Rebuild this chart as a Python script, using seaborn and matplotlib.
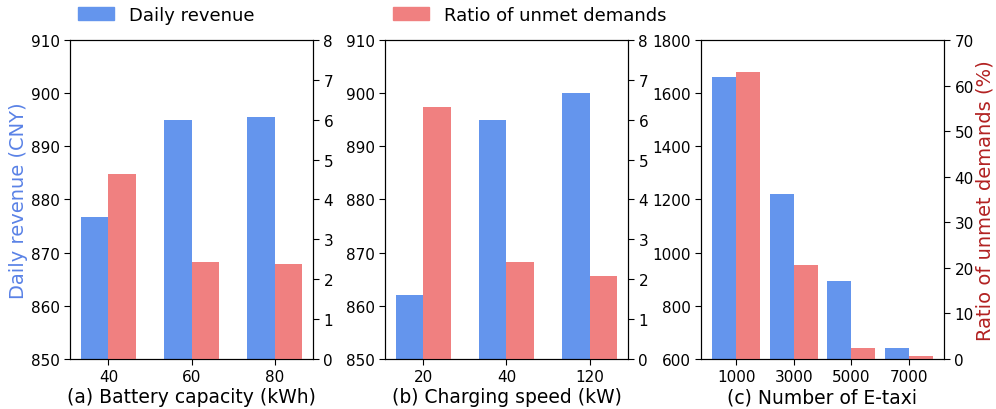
import pandas as pd
import matplotlib
matplotlib.use("Agg")
import matplotlib.pyplot as plt
import seaborn as sns

# panel (a) battery capacity
battery = ['40', '60', '80']
battery_revenue = [876.7, 895.0, 895.5]
battery_unmet = [4.65, 2.43, 2.39]

# panel (b) charging speed
speed = ['20', '40', '120']
speed_revenue = [862.0, 895.0, 900.0]
speed_unmet = [6.33, 2.43, 2.07]

# panel (c) fleet size
fleet = ['1000', '3000', '5000', '7000']
fleet_revenue = [1660, 1222, 893, 640]
fleet_unmet = [63.0, 20.7, 2.4, 0.6]

labels = ['Daily revenue', 'Ratio of unmet demands']
colors = {'Daily revenue': '#6495ED', 'Ratio of unmet demands': '#F08080'}

sns.set_style('ticks')
plt.rcParams['font.family'] = ['DejaVu Sans']
plt.rcParams['axes.edgecolor'] = 'black'
plt.rcParams['xtick.color'] = 'black'
plt.rcParams['ytick.color'] = 'black'
plt.rcParams['text.color'] = 'black'
plt.rcParams['axes.labelcolor'] = 'black'

fig = plt.figure(figsize=(9.96, 4.1), dpi=100)

panels = [
    (battery, battery_revenue, battery_unmet, '(a) Battery capacity (kWh)',
     (850, 910), range(850, 911, 10), (0, 8), range(0, 9), 0.66, 0.0703),
    (speed, speed_revenue, speed_unmet, '(b) Charging speed (kW)',
     (850, 910), range(850, 911, 10), (0, 8), range(0, 9), 0.66, 0.3865),
    (fleet, fleet_revenue, fleet_unmet, '(c) Number of E-taxi',
     (600, 1800), range(600, 1801, 200), (0, 70), range(0, 71, 10), 0.84, 0.7038),
]

for i, (cats, rev, unmet, xlab, ylim1, yt1, ylim2, yt2, w, left) in enumerate(panels):
    ax = fig.add_axes([left, 0.122, 0.244, 0.778])
    ax2 = ax.twinx()
    df_rev = pd.DataFrame({'x': cats, 'y': rev, 'series': labels[0]})
    df_un = pd.DataFrame({'x': cats, 'y': unmet, 'series': labels[1]})
    sns.barplot(data=df_rev, x='x', y='y', hue='series', hue_order=labels,
                palette=colors, width=w, dodge=True, saturation=1, linewidth=0,
                legend=False, ax=ax)
    sns.barplot(data=df_un, x='x', y='y', hue='series', hue_order=labels,
                palette=colors, width=w, dodge=True, saturation=1, linewidth=0,
                legend=False, ax=ax2)
    n = len(cats)
    span = (n - 1) + w
    m = 0.05 * span
    ax.set_xlim(-w / 2 - m, n - 1 + w / 2 + m)
    ax2.set_xlim(ax.get_xlim())
    ax.set_ylim(*ylim1)
    ax.set_yticks(list(yt1))
    ax2.set_ylim(*ylim2)
    ax2.set_yticks(list(yt2))
    ax.set_xlabel(xlab, fontsize=13.5, labelpad=2)
    ax.set_ylabel('')
    ax2.set_ylabel('')
    for a in (ax, ax2):
        a.tick_params(labelsize=11, length=4)
        for s in a.spines.values():
            s.set_visible(True)
            s.set_color('black')
            s.set_linewidth(0.8)
    if i == 0:
        ax.set_ylabel('Daily revenue (CNY)', fontsize=14, color='#5a82e6', labelpad=2)
    if i == 2:
        ax2.set_ylabel('Ratio of unmet demands (%)', fontsize=14, color='#b22222', labelpad=1)

handles = [plt.Rectangle((0, 0), 1, 1, color=colors[l]) for l in labels]
fig.legend(handles, labels, ncol=2, loc='center left',
           bbox_to_anchor=(0.062, 0.961), frameon=False, fontsize=13,
           columnspacing=7.7, handletextpad=0.8)

fig.savefig('out.png', dpi=100)
